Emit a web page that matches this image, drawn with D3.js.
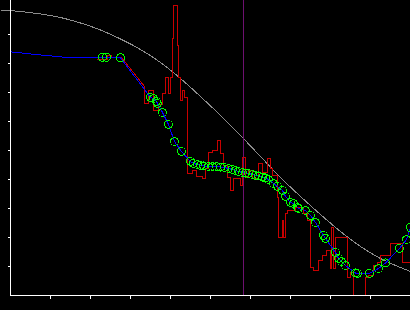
<!DOCTYPE html>
<html>
<head>
<meta charset="utf-8">
<script src="https://cdn.jsdelivr.net/npm/d3@7"></script>
<style>
  html, body { margin: 0; padding: 0; background: #000; }
  svg { display: block; }
</style>
</head>
<body>
<svg id="chart"></svg>
<script>
const width = 410, height = 310;

// model curve (grey)
const modelX = [-0.25, 0.25, 0.75, 1.25, 1.75, 2.25, 2.75, 3.25, 3.75, 4.25, 4.75,
  5.25, 5.75, 6.25, 6.75, 7.25, 7.75, 8.25, 8.75, 9.25, 9.75, 10];
const modelY = [9.845, 9.793, 9.707, 9.586, 9.397, 9.155, 8.845, 8.483, 8.034, 7.483, 6.862,
  6.207, 5.517, 4.793, 4.069, 3.414, 2.793, 2.207, 1.690, 1.276, 0.966, 0.828];

// blue fit, start without markers
const leadX = [0, 0.625, 1.425, 2.15];
const leadY = [8.403, 8.310, 8.207, 8.197];

// blue fit, marked points (green rings)
const fitX = [2.3, 2.4, 2.75, 3.5, 3.575, 3.65, 3.675, 3.8, 3.95, 4.1, 4.275,
  4.5, 4.575, 4.675, 4.75, 4.825, 4.95, 5.05, 5.15, 5.25, 5.35, 5.45, 5.55, 5.625,
  5.7, 5.8, 5.875, 5.95, 6.05, 6.125, 6.2, 6.3, 6.375, 6.45, 6.575, 6.675, 6.8,
  6.875, 7.0, 7.075, 7.175, 7.2, 7.375, 7.5, 7.625, 7.825, 7.875, 8.125, 8.2,
  8.275, 8.375, 8.625, 8.675, 8.975, 9.2, 9.375, 9.725, 9.9, 10.0];
const fitY = [8.217, 8.217, 8.197, 6.828, 6.793, 6.690, 6.621, 6.310, 5.897, 5.310, 4.966,
  4.621, 4.552, 4.517, 4.483, 4.466, 4.448, 4.448, 4.448, 4.431, 4.414, 4.379, 4.345, 4.310,
  4.276, 4.241, 4.224, 4.207, 4.172, 4.138, 4.121, 4.086, 4.052, 4.0, 3.862, 3.759, 3.621,
  3.414, 3.207, 3.172, 3.034, 3.0, 2.931, 2.759, 2.517, 2.069, 1.966, 1.483, 1.276,
  1.172, 1.034, 0.776, 0.759, 0.759, 0.931, 1.121, 1.621, 1.931, 2.345];

// raw signal (red)
const rawX = [2.15, 2.425, 2.425, 2.525, 2.525, 2.775,
  3.35, 3.35, 3.45, 3.45, 3.575, 3.575, 3.7, 3.7, 3.8, 3.8, 3.875, 3.875, 3.95, 3.95,
  4.0, 4.0, 4.05, 4.05, 4.075, 4.075, 4.175, 4.175, 4.2, 4.2, 4.25, 4.25, 4.3, 4.3,
  4.35, 4.35, 4.425,
  4.425, 4.55, 4.55, 4.65, 4.65, 4.8, 4.8, 4.875, 4.875, 4.95, 4.95, 5.05, 5.05,
  5.175, 5.175, 5.25, 5.25, 5.325, 5.325, 5.425, 5.425, 5.5, 5.5, 5.575, 5.575,
  5.75, 5.75, 5.8, 5.8, 5.875, 5.875, 5.95, 5.95, 6.05, 6.05, 6.2, 6.2, 6.3, 6.3,
  6.425, 6.425, 6.5, 6.5, 6.55, 6.55, 6.675, 6.675, 6.7, 6.7, 6.8, 6.8, 6.825, 6.825,
  6.875, 6.875, 6.925, 6.925, 7.125, 7.125, 7.325, 7.325, 7.425, 7.425, 7.5, 7.5,
  7.575, 7.575, 7.7, 7.7, 7.8, 7.8, 7.9, 7.9, 8.0, 8.0, 8.025, 8.025, 8.075, 8.075,
  8.125, 8.125, 8.425, 8.425, 8.5, 8.5, 8.575, 8.575, 8.875, 8.875, 8.95, 8.95,
  9.075, 9.075, 9.175, 9.175, 9.25, 9.25, 9.5, 9.5, 9.8, 9.8, 9.925, 9.925, 10];
const rawY = [8.138, 8.138, 8.276, 8.276, 8.207, 8.207,
  7.207, 6.621, 6.621, 7.069, 7.069, 6.379, 6.379, 6.586, 6.586, 6.966, 6.966, 7.517, 7.517, 6.966,
  6.966, 7.517, 7.517, 8.862, 8.862, 10.0, 10.0, 8.621, 8.621, 7.517, 7.517, 6.724, 6.724, 7.069,
  7.069, 6.828, 6.828,
  4.207, 4.207, 4.310, 4.310, 4.103, 4.103, 4.034, 4.034, 4.379, 4.379, 4.931, 4.931, 5.0,
  5.0, 5.345, 5.345, 4.897, 4.897, 4.483, 4.483, 4.069, 4.069, 3.621, 3.621, 4.034,
  4.034, 3.793, 3.793, 4.759, 4.759, 4.069, 4.069, 4.310, 4.310, 4.034, 4.034, 4.552, 4.552, 4.241,
  4.241, 4.724, 4.724, 4.379, 4.379, 4.138, 4.138, 3.379, 3.379, 2.0, 2.0, 2.586, 2.586, 2.0,
  2.0, 2.828, 2.828, 2.931, 2.931, 3.034, 3.034, 2.828, 2.828, 2.586, 2.586, 0.966,
  0.966, 0.862, 0.862, 1.207, 1.207, 1.379, 1.379, 1.552, 1.552, 0.931, 0.931, 2.345, 2.345, 0.931,
  0.931, 2.0, 2.0, 0.621, 0.621, 0.793, 0.793, 0, 0, 0.621, 0.621, 0.690,
  0.690, 1.034, 1.034, 1.138, 1.138, 1.379, 1.379, 1.793, 1.793, 1.138, 1.138, 1.138, 1.138];

const cursorX = 5.825;   // purple marker line
const xTicks = [1, 2, 3, 4, 5, 6, 7, 8, 9];
const yTicks = [1, 2, 3, 4, 5, 6, 7, 8, 9];

const x = d3.scaleLinear().domain([0, 10]).range([10.5, 410.5]);
const y = d3.scaleLinear().domain([0, 10]).range([295.5, 5.5]);

const svg = d3.select("#chart")
    .attr("width", width)
    .attr("height", height)
    .style("background", "#000");

svg.append("defs").append("clipPath").attr("id", "plot")
  .append("rect").attr("x", 0).attr("y", 0).attr("width", width).attr("height", 296);

const line = d3.line().x(d => x(d[0])).y(d => y(d[1]));

// grey model
svg.append("path")
    .datum(d3.zip(modelX, modelY))
    .attr("fill", "none")
    .attr("stroke", "#8c8c8c")
    .attr("stroke-width", 1)
    .attr("shape-rendering", "crispEdges")
    .attr("d", line.curve(d3.curveMonotoneX));
line.curve(d3.curveLinear);

// cursor
svg.append("line")
    .attr("x1", x(cursorX)).attr("x2", x(cursorX))
    .attr("y1", 0).attr("y2", y(0))
    .attr("stroke", "#6e1070")
    .attr("stroke-width", 1)
    .attr("shape-rendering", "crispEdges");

// red raw data
svg.append("path")
    .datum(d3.zip(rawX, rawY))
    .attr("fill", "none")
    .attr("stroke", "#c80000")
    .attr("stroke-width", 1)
    .attr("shape-rendering", "crispEdges")
    .attr("d", line);

// blue fit
const fitPts = d3.zip(fitX, fitY);
svg.append("path")
    .datum(d3.zip(leadX, leadY).concat(fitPts))
    .attr("fill", "none")
    .attr("stroke", "#0000ff")
    .attr("stroke-width", 1)
    .attr("shape-rendering", "crispEdges")
    .attr("d", line);

// green rings
svg.append("g")
    .attr("clip-path", "url(#plot)")
  .selectAll("circle")
  .data(fitPts)
  .join("circle")
    .attr("cx", d => x(d[0]))
    .attr("cy", d => y(d[1]))
    .attr("r", 4)
    .attr("fill", "none")
    .attr("stroke", "#00ff00")
    .attr("stroke-width", 1)
    .attr("shape-rendering", "crispEdges");

// axes
const axes = svg.append("g")
    .attr("stroke", "#fff")
    .attr("stroke-width", 1)
    .attr("shape-rendering", "crispEdges");

axes.append("line")
    .attr("x1", x(0)).attr("x2", x(0))
    .attr("y1", 0).attr("y2", y(0));
axes.append("line")
    .attr("x1", x(0)).attr("x2", width)
    .attr("y1", y(0)).attr("y2", y(0));

axes.selectAll(".ty")
  .data(yTicks)
  .join("line")
    .attr("class", "ty")
    .attr("x1", x(0) - 3).attr("x2", x(0))
    .attr("y1", d => y(d)).attr("y2", d => y(d));

axes.selectAll(".tx")
  .data(xTicks)
  .join("line")
    .attr("class", "tx")
    .attr("x1", d => x(d)).attr("x2", d => x(d))
    .attr("y1", y(0)).attr("y2", y(0) + 3);
</script>
</body>
</html>
